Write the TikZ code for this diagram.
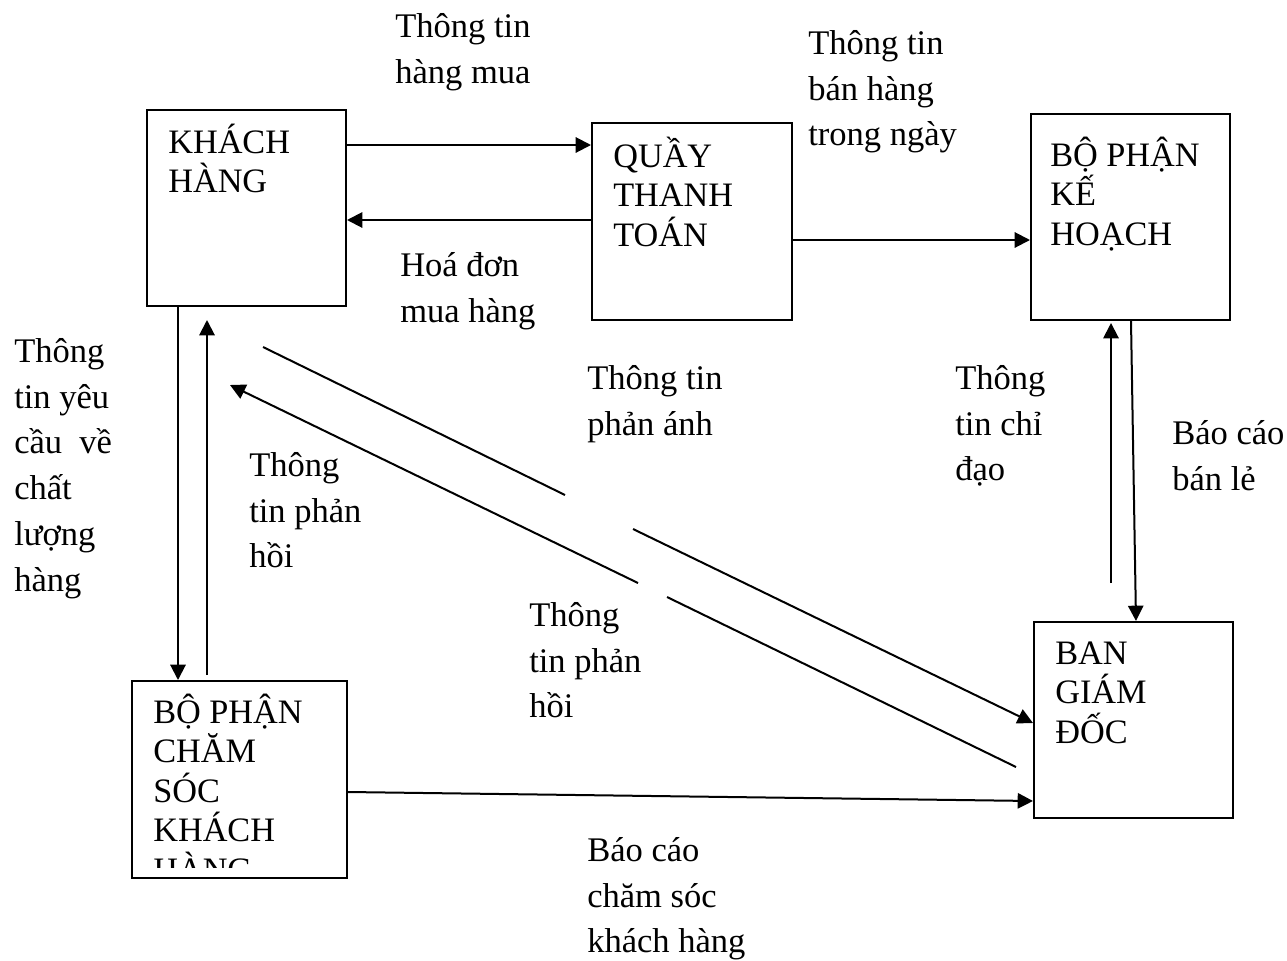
\documentclass[tikz,border=0pt]{standalone}
\usepackage{fontspec}
\setmainfont{Liberation Serif}
\usetikzlibrary{arrows.meta,fit}

% first-line strut so every text block has the same top-to-baseline distance
\newcommand{\topstrut}{\rule{0pt}{27pt}}

\tikzset{
  box/.style={draw, line width=1.5pt, rectangle, inner sep=0pt},
  boxtext/.style={anchor=north west, inner sep=0pt, align=left,
    font=\fontsize{25.7}{29.6}\selectfont},
  lbl/.style={anchor=north west, inner sep=0pt, align=left,
    font=\fontsize{25.9}{34.35}\selectfont},
  arr/.style={line width=1.5pt, -{Triangle[length=11.5pt,width=11.5pt]}},
  ln/.style={line width=1.5pt}
}

\begin{document}
\begin{tikzpicture}[x=0.75pt, y=-0.75pt]
\useasboundingbox (0,0) rectangle (1287,960);

% ---- boxes ----
\node[box, fit={(147,110) (346,306)}] (kh) {};
\node[box, fit={(592,123) (792,320)}] (qtt) {};
\node[box, fit={(1031,114) (1230,320)}] (kehoach) {};
\node[box, fit={(1034,622) (1233,818)}] (bgd) {};
\node[box, fit={(132,681) (347,878)}] (cskh) {};

% ---- box captions ----
\node[boxtext] (khT) at (168,117) {\topstrut KHÁCH\\HÀNG};
\node[boxtext] (qttT) at (613,131) {\topstrut QUẦY\\THANH\\TOÁN};
\node[boxtext] (kehoachT) at (1050,130) {\topstrut BỘ PHẬN\\KẾ\\HOẠCH};
\node[boxtext] (bgdT) at (1055,628) {\topstrut BAN\\GIÁM\\ĐỐC};
\begin{scope}
  \clip (132,681) rectangle (347,867);
  \node[boxtext] (cskhT) at (153,687) {\topstrut BỘ PHẬN\\CHĂM\\SÓC\\KHÁCH\\HÀNG};
\end{scope}

% ---- flow labels ----
\node[lbl] (l1) at (395,1) {\topstrut Thông tin\\hàng mua};
\node[lbl] (l2) at (808,18) {\topstrut Thông tin\\bán hàng\\trong ngày};
\node[lbl] (l3) at (400,240) {\topstrut Hoá đơn\\mua hàng};
\node[lbl] (l4) at (587,353) {\topstrut Thông tin\\phản ánh};
\node[lbl] (l5) at (955,353) {\topstrut Thông\\tin chỉ\\đạo};
\node[lbl] (l6) at (1172,408) {\topstrut Báo cáo\\bán lẻ};
\node[lbl] (l7) at (14,326) {\topstrut Thông\\tin yêu\\cầu\ \ về\\chất\\lượng\\hàng};
\node[lbl] (l8) at (249,440) {\topstrut Thông\\tin phản\\hồi};
\node[lbl] (l9) at (529,590) {\topstrut Thông\\tin phản\\hồi};
\node[lbl] (l10) at (587,825) {\topstrut Báo cáo\\chăm sóc\\khách hàng};

% ---- free connector ends ----
\coordinate (upA) at (207,675);
\coordinate (upB) at (207,320);
\coordinate (bgUpA) at (1111,583);
\coordinate (bgUpB) at (1111,323);
\coordinate (paA) at (263,347);
\coordinate (paG1) at (565,495);
\coordinate (paG2) at (633,529);
\coordinate (paB) at (1033,723);
\coordinate (phA) at (1016,767);
\coordinate (phG1) at (667,597);
\coordinate (phG2) at (638,583);
\coordinate (phB) at (230,385);

% ---- connectors ----
\draw[arr] (kh.east |- 0,145) -- (qtt.west |- 0,145);
\draw[arr] (qtt.west |- 0,220) -- (kh.east |- 0,220);
\draw[arr] (qtt.east |- 0,240) -- (kehoach.west |- 0,240);
\draw[arr] (kh.south -| 178,0) -- (cskh.north -| 178,0);
\draw[arr] (upA) -- (upB);
\draw[arr] (kehoach.south -| 1131,0) -- (bgd.north -| 1136,0);
\draw[arr] (bgUpA) -- (bgUpB);
\draw[ln] (paA) -- (paG1);
\draw[arr] (paG2) -- (paB);
\draw[ln] (phA) -- (phG1);
\draw[arr] (phG2) -- (phB);
\draw[arr] (cskh.east |- 0,792) -- (bgd.west |- 0,801);
\end{tikzpicture}
\end{document}
